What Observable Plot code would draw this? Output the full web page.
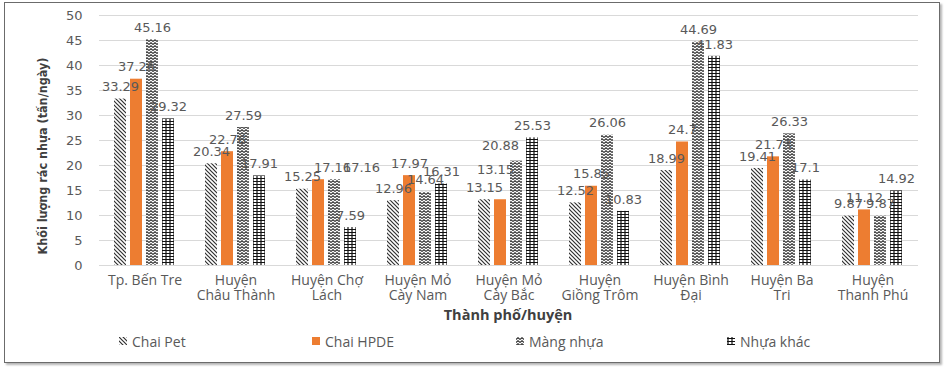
<!DOCTYPE html>
<html>
<head>
<meta charset="utf-8">
<script src="https://cdn.jsdelivr.net/npm/d3@7"></script>
<script src="https://cdn.jsdelivr.net/npm/@observablehq/plot@0.6"></script>
<style>
  body { margin: 0; background: #fff; width: 949px; height: 370px; position: relative; overflow: hidden; font-family: "Open Sans", sans-serif; }
  #frame { position: absolute; left: 4px; top: 2px; width: 934px; height: 359px; border: 1.5px solid #6b6b6b; box-shadow: 2px 2px 2px #b5b5b5; pointer-events: none; }
  #chart { position: absolute; left: 0; top: 0; }
  #ytitle { position: absolute; left: 42px; top: 156px; transform: translate(-50%, -50%) rotate(-90deg); white-space: nowrap;
            font-family: "DejaVu Sans Condensed", "DejaVu Sans"; font-stretch: condensed; font-weight: bold; font-size: 12.5px; color: #404040; }
  #xtitle { position: absolute; left: 508px; top: 315px; transform: translate(-50%, -50%); white-space: nowrap;
            font-family: "Open Sans"; font-weight: bold; font-size: 14.5px; line-height: 1; color: #404040; }
  #legend { position: absolute; left: 0; top: 331px; width: 949px; height: 20px; font-size: 14px; color: #595959; }
  .item { position: absolute; top: 0; display: flex; align-items: center; gap: 5px; height: 20px; white-space: nowrap; }
  .item svg { display: block; }
</style>
</head>
<body>
<div id="chart"></div>
<div id="ytitle"></div>
<div id="xtitle"></div>
<div id="legend"></div>
<div id="frame"></div>
<script>
// ---- data ----
const categories = ["Tp. Bến Tre", "Huyện Châu Thành", "Huyện Chợ Lách", "Huyện Mỏ Cày Nam", "Huyện Mỏ Cày Bắc",
                    "Huyện Giồng Trôm", "Huyện Bình Đại", "Huyện Ba Tri", "Huyện Thanh Phú"];
const tickLabels = ["Tp. Bến Tre", "Huyện\nChâu Thành", "Huyện Chợ\nLách", "Huyện Mỏ\nCày Nam", "Huyện Mỏ\nCày Bắc",
                    "Huyện\nGiồng Trôm", "Huyện Bình\nĐại", "Huyện Ba\nTri", "Huyện\nThanh Phú"];
const series = ["Chai Pet", "Chai HPDE", "Màng nhựa", "Nhựa khác"];
const chaiPet  = [33.29, 20.34, 15.25, 12.96, 13.15, 12.52, 18.99, 19.41, 9.87];
const chaiHPDE = [37.26, 22.76, 17.16, 17.97, 13.15, 15.85, 24.7, 21.73, 11.12];
const mangNhua = [45.16, 27.59, 17.16, 14.64, 20.88, 26.06, 44.69, 26.33, 9.87];
const nhuaKhac = [29.32, 17.91, 7.59, 16.31, 25.53, 10.83, 41.83, 17.1, 14.92];
const yTicks = [0, 5, 10, 15, 20, 25, 30, 35, 40, 45, 50];
const yTitle = "Khối lượng rác nhựa (tấn/ngày)";
const xTitle = "Thành phố/huyện";

// ---- build table ----
const seriesValues = [chaiPet, chaiHPDE, mangNhua, nhuaKhac];
const rows = categories.flatMap((c, i) => series.map((s, j) => ({cat: c, series: s, value: seriesValues[j][i]})));
const fills = ["url(#pat-pet)", "#ED7D31", "url(#pat-mang)", "url(#pat-khac)"];

const isAt = (d, ci, si) => d.cat === categories[ci] && d.series === series[si];
const special = [[4, 1], [4, 2], [2, 1], [2, 2]];
const isSpecial = d => special.some(([ci, si]) => isAt(d, ci, si));
const labelOpts = {fx: "cat", x: "series", y: "value", text: d => String(d.value), fill: "#595959", fontSize: 13};

const plot = Plot.plot({
  width: 949,
  height: 325,
  marginTop: 15,
  marginBottom: 60,
  marginLeft: 98,
  marginRight: 31,
  style: {fontFamily: "DejaVu Sans", fontSize: "13px", color: "#595959", background: "transparent", overflow: "visible"},
  fx: {domain: categories, padding: 0, label: null},
  x: {domain: series, axis: null, paddingInner: 0.22, paddingOuter: 0.84},
  y: {domain: [0, 50], label: null},
  color: {domain: series, range: fills},
  marks: [
    Plot.ruleY(yTicks, {stroke: "#d9d9d9", strokeWidth: 1}),
    Plot.axisY({ticks: yTicks, tickSize: 0, tickPadding: 17, label: null, fill: "#595959", fontSize: 13}),
    Plot.axisFx({anchor: "bottom", tickSize: 0, tickPadding: 8, label: null,
                 tickFormat: d => tickLabels[categories.indexOf(d)],
                 fontFamily: "Open Sans", fontSize: 14, lineHeight: 1.12, fill: "#595959"}),
    Plot.barY(rows, {fx: "cat", x: "series", y: "value", fill: "series"}),
    Plot.text(rows, {...labelOpts, filter: d => !isSpecial(d), dy: -12}),
    Plot.text(rows, {...labelOpts, filter: d => isAt(d, 4, 1), dx: -5, dy: -30}),
    Plot.text(rows, {...labelOpts, filter: d => isAt(d, 4, 2), dx: -16, dy: -15}),
    Plot.text(rows, {...labelOpts, filter: d => isAt(d, 2, 1), dx: 14, dy: -12}),
    Plot.text(rows, {...labelOpts, filter: d => isAt(d, 2, 2), dx: 27, dy: -12})
  ]
});

const defs = `
<pattern id="pat-pet" patternUnits="userSpaceOnUse" width="4" height="4">
  <rect width="4" height="4" fill="#fff"/>
  <path d="M-1,-1L5,5M-1,3L1,5M3,-1L5,1" stroke="#303030" stroke-width="1.2"/>
</pattern>
<pattern id="pat-mang" patternUnits="userSpaceOnUse" width="4" height="3">
  <rect width="4" height="3" fill="#fff"/>
  <path d="M0,2.5L2,0.7L4,2.5" stroke="#2a2a2a" stroke-width="1.1" fill="none"/>
</pattern>
<pattern id="pat-khac" patternUnits="userSpaceOnUse" width="4" height="3">
  <rect width="4" height="3" fill="#fff"/>
  <path d="M1,0V3M0,1.5H4" stroke="#111" stroke-width="1.2"/>
</pattern>`;
const svgDefs = document.createElementNS("http://www.w3.org/2000/svg", "defs");
svgDefs.innerHTML = defs;
plot.insertBefore(svgDefs, plot.firstChild);
document.getElementById("chart").appendChild(plot);

document.getElementById("ytitle").textContent = yTitle;
document.getElementById("xtitle").textContent = xTitle;

// ---- legend ----
const legendLeft = [119, 312, 516, 727];
const legend = d3.select("#legend");
series.forEach((s, j) => {
  const item = legend.append("div").attr("class", "item").style("left", legendLeft[j] + "px");
  const sw = item.append("svg").attr("width", 8).attr("height", 8);
  sw.append("rect").attr("width", 8).attr("height", 8).attr("fill", fills[j]);
  item.append("span").text(s);
});
</script>
</body>
</html>
